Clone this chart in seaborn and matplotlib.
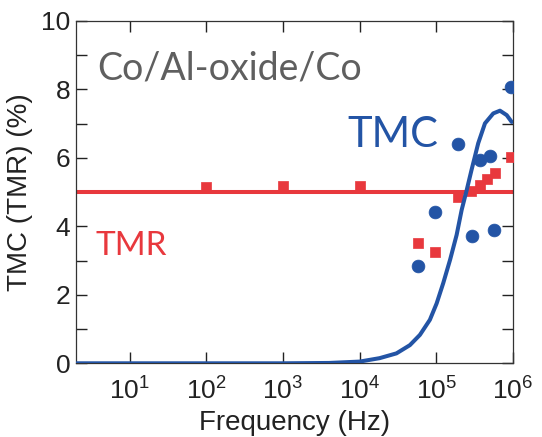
import numpy as np
import pandas as pd
import seaborn as sns
import matplotlib.pyplot as plt
from matplotlib.ticker import FixedLocator, NullLocator, MultipleLocator

# fitted TMC curve
curve_freq = [2, 100, 1000, 4000, 1.0e4, 1.82e4, 3.02e4, 4.52e4, 6.11e4, 8.24e4,
              1.01e5, 1.23e5, 1.51e5, 1.84e5, 2.14e5, 2.49e5, 2.88e5, 3.52e5,
              4.31e5, 5.53e5, 6.76e5, 8.28e5, 9.62e5]
curve_tmc = [0.0, 0.0, 0.0, 0.01, 0.05, 0.15, 0.29, 0.53, 0.83, 1.27,
             1.75, 2.34, 3.02, 3.75, 4.48, 5.06, 5.65, 6.43,
             7.01, 7.30, 7.38, 7.25, 7.05]

# measured TMC (circles)
tmc_freq = [5.7e4, 9.5e4, 1.9e5, 2.9e5, 3.7e5, 5.0e5, 5.7e5, 9.5e5]
tmc_vals = [2.84, 4.43, 6.41, 3.72, 5.94, 6.06, 3.89, 8.07]

# measured TMR (squares) and the TMR level line
tmr_freq = [100, 1000, 1e4, 5.7e4, 9.5e4, 1.9e5, 2.8e5, 3.7e5, 4.6e5, 5.8e5, 9.5e5]
tmr_vals = [5.15, 5.17, 5.17, 3.51, 3.24, 4.87, 5.03, 5.20, 5.37, 5.55, 6.04]
tmr_level = 5.0

x_ticks = [10, 100, 1000, 1e4, 1e5, 1e6]
x_ticklabels = [r'$\mathregular{10^{%d}}$' % i for i in range(1, 7)]

red = '#E8383D'
blue = '#2354A5'

sns.set_style('ticks')
plt.rcParams['font.family'] = ['Liberation Sans', 'DejaVu Sans']
plt.rcParams['mathtext.fontset'] = 'custom'
plt.rcParams['mathtext.rm'] = 'Liberation Sans'

df_curve = pd.DataFrame({'f': curve_freq, 'v': curve_tmc})
df_tmc = pd.DataFrame({'f': tmc_freq, 'v': tmc_vals})
df_tmr = pd.DataFrame({'f': tmr_freq, 'v': tmr_vals})

fig = plt.figure(figsize=(5.42, 4.37), dpi=100)
ax = fig.add_axes([76 / 542, 1 - 363.3 / 437, 437 / 542, 342.3 / 437])

ax.axhline(tmr_level, color=red, lw=2.9, zorder=2)
sns.scatterplot(data=df_tmr, x='f', y='v', marker='s', s=60, color=red,
                edgecolor=red, linewidth=0.5, ax=ax, zorder=3)
sns.lineplot(data=df_curve, x='f', y='v', color=blue, lw=2.9, ax=ax, zorder=4)
sns.scatterplot(data=df_tmc, x='f', y='v', marker='o', s=85, color=blue,
                edgecolor=blue, linewidth=0.5, ax=ax, zorder=5)

ax.set_xscale('log')
ax.set_xlim(2, 1e6)
ax.set_ylim(0, 10)
ax.xaxis.set_major_locator(FixedLocator(x_ticks))
ax.xaxis.set_minor_locator(NullLocator())
ax.set_xticklabels(x_ticklabels)
ax.yaxis.set_major_locator(MultipleLocator(2))
ax.yaxis.set_minor_locator(MultipleLocator(1))

ax.tick_params(which='both', direction='in', top=True, right=True,
               width=1.0, color='#222222', labelsize=19, labelcolor='#222222')
ax.tick_params(which='major', length=8)
ax.tick_params(which='minor', length=8)
ax.tick_params(axis='x', pad=10)
ax.tick_params(axis='y', pad=4)
for s in ax.spines.values():
    s.set_linewidth(0.9)
    s.set_color('#333333')

ax.set_xlabel('Frequency (Hz)', fontsize=20, color='#222222', labelpad=4)
ax.set_ylabel('TMC (TMR) (%)', fontsize=20, color='#222222', labelpad=6)

ax.text(0.048, 0.828, 'Co/Al-oxide/Co', transform=ax.transAxes,
        fontsize=27, color='#5F5F5F', family='Lato', va='baseline')
ax.text(0.622, 0.632, 'TMC', transform=ax.transAxes,
        fontsize=30, color=blue, family='Lato', va='baseline')
ax.text(0.045, 0.315, 'TMR', transform=ax.transAxes,
        fontsize=24, color=red, family='Lato', va='baseline')

fig.savefig('out.png', dpi=100)
